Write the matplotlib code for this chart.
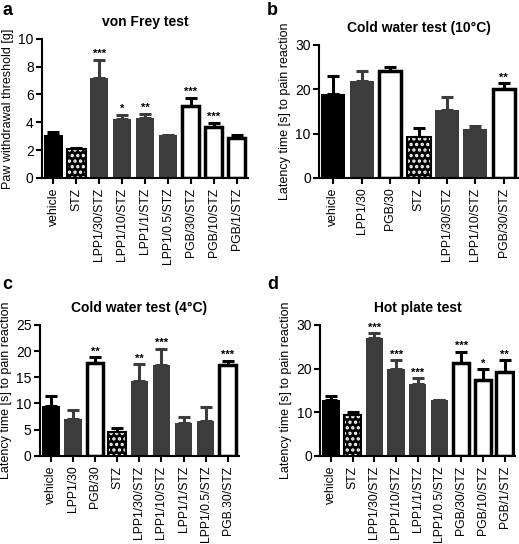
import matplotlib
matplotlib.use("Agg")
import matplotlib.pyplot as plt

plt.rcParams['font.family'] = ['Liberation Sans', 'DejaVu Sans']
plt.rcParams['hatch.linewidth'] = 1.6

# panel a: von Frey
a_labels = ["vehicle", "STZ", "LPP1/30/STZ", "LPP1/10/STZ", "LPP1/1/STZ",
            "LPP1/0.5/STZ", "PGB/30/STZ", "PGB/10/STZ", "PGB/1/STZ"]
a_means = [3.1, 2.05, 7.2, 4.25, 4.3, 3.05, 5.15, 3.65, 2.9]
a_errs = [0.2, 0.12, 1.3, 0.3, 0.3, 0.07, 0.6, 0.3, 0.15]
a_stars = ["", "", "***", "*", "**", "", "***", "***", ""]

# panel b: cold water 10C
b_labels = ["vehicle", "LPP1/30", "PGB/30", "STZ", "LPP1/30/STZ",
            "LPP1/10/STZ", "PGB/30/STZ"]
b_means = [19.0, 21.8, 24.2, 9.3, 15.2, 11.1, 20.0]
b_errs = [4.0, 2.4, 0.8, 1.9, 3.0, 0.6, 1.4]
b_stars = ["", "", "", "", "", "", "**"]

# panel c: cold water 4C
c_labels = ["vehicle", "LPP1/30", "PGB/30", "STZ", "LPP1/30/STZ",
            "LPP1/10/STZ", "LPP1/1/STZ", "LPP1/0.5/STZ", "PGB.30/STZ"]
c_means = [9.5, 7.1, 17.8, 4.5, 14.3, 17.4, 6.2, 6.6, 17.4]
c_errs = [2.0, 1.6, 1.0, 0.8, 3.2, 3.0, 1.3, 2.7, 0.8]
c_stars = ["", "", "**", "", "**", "***", "", "", "***"]

# panel d: hot plate
d_labels = ["vehicle", "STZ", "LPP1/30/STZ", "LPP1/10/STZ", "LPP1/1/STZ",
            "LPP1/0.5/STZ", "PGB/30/STZ", "PGB/10/STZ", "PGB/1/STZ"]
d_means = [12.8, 9.3, 26.9, 19.9, 16.5, 12.7, 21.2, 17.4, 19.3]
d_errs = [0.8, 0.7, 1.2, 2.0, 1.3, 0.2, 2.6, 2.4, 2.6]
d_stars = ["", "", "***", "***", "***", "", "***", "*", "**"]

GRAY = "#3c3c3c"


def group_of(label):
    if label == "vehicle":
        return "veh"
    if label == "STZ":
        return "stz"
    if label.startswith("LPP1"):
        return "lpp"
    return "pgb"


def panel(ax, labels, means, errs, stars, title, ylabel, ymax, yticks, width=0.8):
    n = len(labels)
    for i, (lab, m, e, s) in enumerate(zip(labels, means, errs, stars)):
        g = group_of(lab)
        if g == "veh":
            ax.bar(i, m, width, color="black", zorder=2)
            col = "black"
        elif g == "stz":
            # black bar with white dots
            ax.bar(i, m, width, color="black", edgecolor="white", hatch="...",
                   linewidth=0, zorder=2)
            ax.bar(i, m, width, color="none", edgecolor="black", linewidth=1.5, zorder=3)
            col = "black"
        elif g == "lpp":
            ax.bar(i, m, width, color=GRAY, zorder=2)
            col = GRAY
        else:
            ax.bar(i, m, width * 0.93, color="white", edgecolor="black",
                   linewidth=2.5, zorder=2)
            col = "black"
        ax.errorbar(i, m, yerr=[[0], [e]], color=col, elinewidth=2.2,
                    capsize=4.5, capthick=2.2, zorder=1)
        if s:
            ax.text(i, m + e + ymax * 0.005, s, ha="center", va="bottom",
                    fontsize=8, fontweight="bold")
    ax.set_xlim(-0.5, n - 0.5)
    ax.set_ylim(0, ymax)
    ax.set_yticks(yticks)
    ax.set_xticks(range(n))
    ax.set_xticklabels(labels, rotation=90, fontsize=8.8)
    ax.tick_params(axis="y", labelsize=10, width=1.5, length=4, pad=2)
    ax.tick_params(axis="x", width=1.5, length=4, pad=3)
    for sp in ("top", "right"):
        ax.spines[sp].set_visible(False)
    for sp in ("left", "bottom"):
        ax.spines[sp].set_linewidth(1.5)
    ax.set_title(title, fontsize=10, fontweight="bold", pad=9)
    ax.set_ylabel(ylabel, fontsize=9, labelpad=3)


fig = plt.figure(figsize=(5.19, 5.44), dpi=100)
ax_a = fig.add_axes([0.081, 0.673, 0.397, 0.2555])
ax_b = fig.add_axes([0.615, 0.673, 0.383, 0.2445])
ax_c = fig.add_axes([0.077, 0.162, 0.383, 0.2408])
ax_d = fig.add_axes([0.617, 0.162, 0.376, 0.2408])

panel(ax_a, a_labels, a_means, a_errs, a_stars, "von Frey test",
      "Paw withdrawal threshold [g]", 10, [0, 2, 4, 6, 8, 10])
panel(ax_b, b_labels, b_means, b_errs, b_stars, "Cold water test (10°C)",
      "Latency time [s] to pain reaction", 30, [0, 10, 20, 30], width=0.85)
panel(ax_c, c_labels, c_means, c_errs, c_stars, "Cold water test (4°C)",
      "Latency time [s] to pain reaction", 25, [0, 5, 10, 15, 20, 25])
panel(ax_d, d_labels, d_means, d_errs, d_stars, "Hot plate test",
      "Latency time [s] to pain reaction", 30, [0, 10, 20, 30])

for letter, x, y in [("a", 0.004, 0.997), ("b", 0.515, 0.997),
                     ("c", 0.004, 0.492), ("d", 0.515, 0.492)]:
    fig.text(x, y, letter, fontsize=13, fontweight="bold", va="top", ha="left")

fig.savefig("out.png", dpi=100)
